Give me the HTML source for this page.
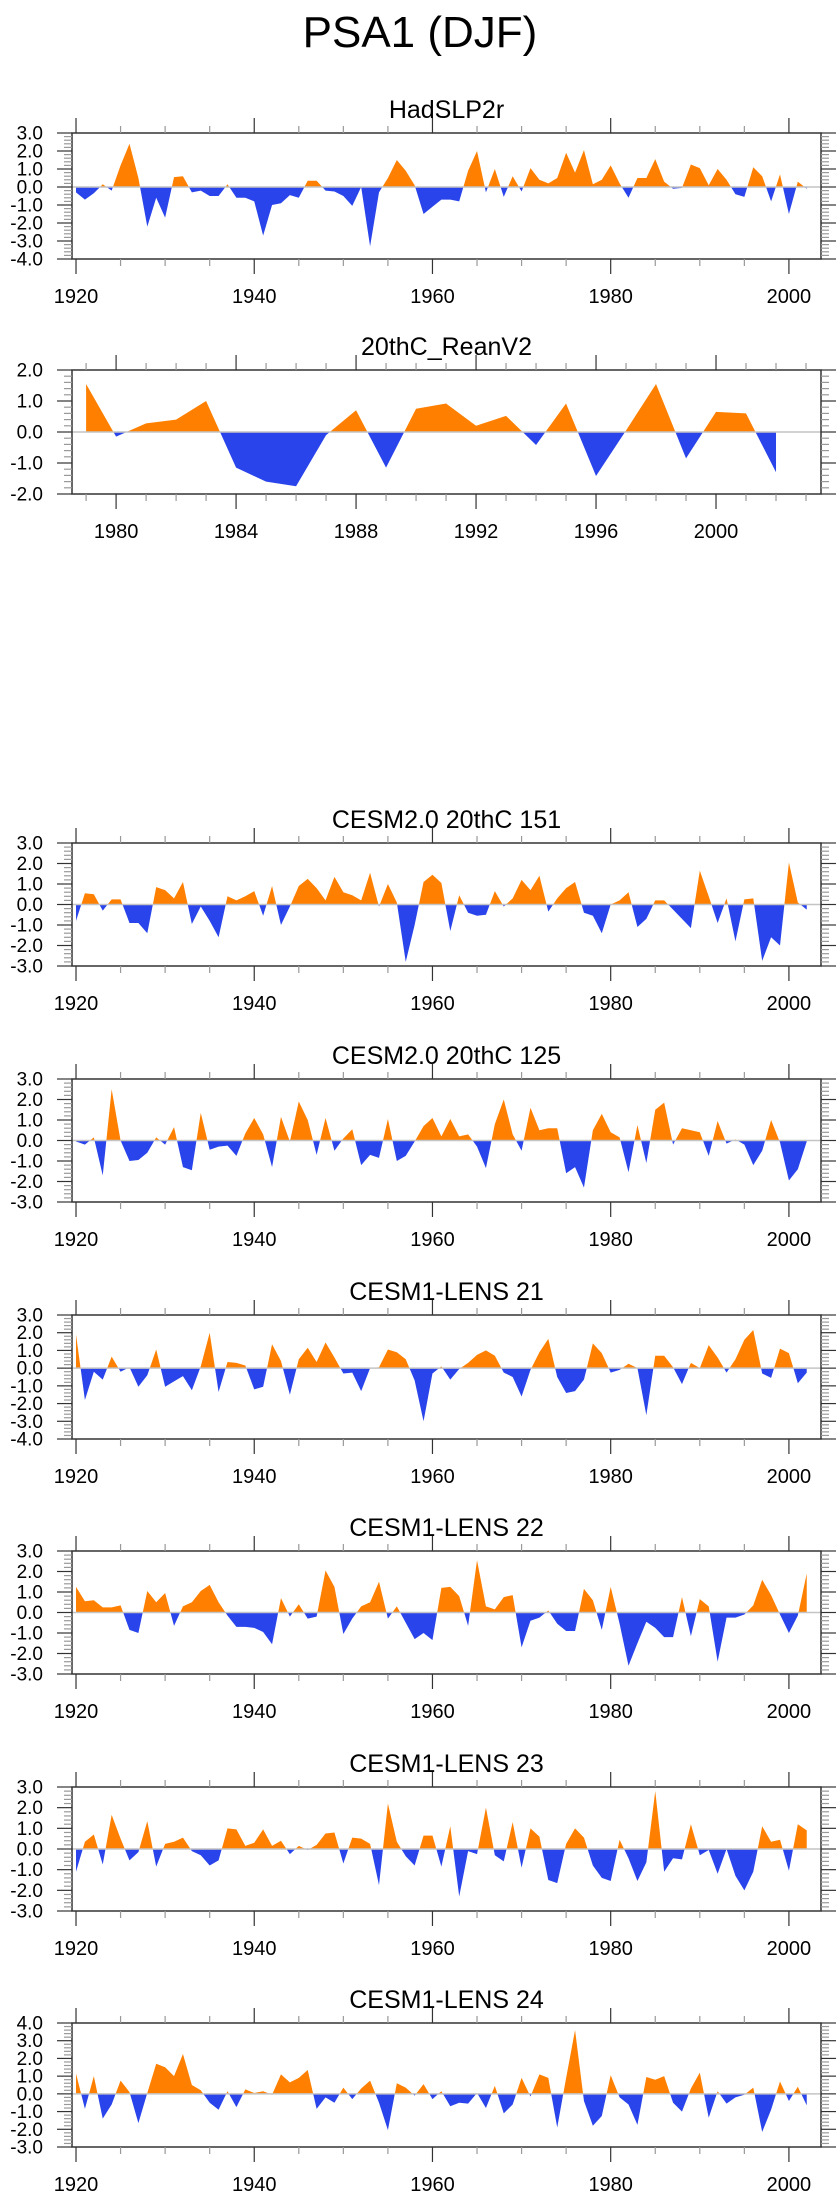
<!DOCTYPE html>
<html><head><meta charset="utf-8"><style>
html,body{margin:0;padding:0;background:#fff;}
svg{display:block;font-family:"Liberation Sans",sans-serif;}
</style></head><body>
<svg id="fig" width="840" height="2200" viewBox="0 0 840 2200" xmlns="http://www.w3.org/2000/svg">
<text x="420" y="47" font-size="44" text-anchor="middle">PSA1 (DJF)</text>
</svg>
<script>
const hadslp=[-0.3,-0.7,-0.35,0.15,-0.2,1.2,2.4,0.5,-2.2,-0.6,-1.7,0.55,0.6,-0.3,-0.2,-0.5,-0.5,0.15,-0.6,-0.6,-0.8,-2.7,-1.0,-0.9,-0.45,-0.6,0.35,0.35,-0.2,-0.25,-0.5,-1.05,0.0,-3.3,-0.3,0.5,1.5,0.9,0.1,-1.5,-1.1,-0.7,-0.7,-0.8,0.9,2.0,-0.3,1.0,-0.55,0.6,-0.25,1.05,0.4,0.2,0.5,1.9,0.8,2.05,0.15,0.4,1.2,0.2,-0.6,0.5,0.5,1.55,0.3,-0.1,-0.05,1.25,1.05,0.1,1.0,0.4,-0.4,-0.55,1.1,0.6,-0.8,0.7,-1.5,0.3,-0.1];
const rean=[1.55,-0.15,0.28,0.4,1.0,-1.15,-1.6,-1.75,-0.1,0.7,-1.15,0.75,0.92,0.2,0.52,-0.42,0.92,-1.42,0.05,1.55,-0.85,0.65,0.6,-1.3];
const c151=[-0.8,0.55,0.5,-0.3,0.25,0.25,-0.9,-0.9,-1.4,0.85,0.7,0.3,1.1,-0.95,-0.1,-0.8,-1.6,0.4,0.2,0.4,0.65,-0.55,0.9,-1.0,-0.1,0.9,1.25,0.8,0.2,1.35,0.6,0.45,0.2,1.55,-0.1,1.0,0.1,-2.8,-1.0,1.1,1.45,1.05,-1.3,0.45,-0.4,-0.55,-0.5,0.65,-0.1,0.3,1.2,0.7,1.4,-0.35,0.3,0.8,1.1,-0.4,-0.55,-1.4,0.0,0.2,0.6,-1.1,-0.7,0.2,0.2,-0.25,-0.7,-1.15,1.65,0.4,-0.9,0.3,-1.8,0.25,0.3,-2.75,-1.6,-2.0,2.05,0.1,-0.25];
const c125=[-0.05,-0.2,0.15,-1.7,2.5,0.0,-1.0,-0.95,-0.6,0.15,-0.2,0.65,-1.3,-1.45,1.35,-0.45,-0.3,-0.25,-0.75,0.35,1.1,0.3,-1.3,1.15,-0.05,1.9,1.0,-0.7,1.1,-0.5,0.1,0.55,-1.2,-0.7,-0.85,1.05,-1.0,-0.75,-0.05,0.7,1.1,0.2,1.05,0.2,0.3,-0.3,-1.35,0.8,2.0,0.3,-0.5,1.6,0.5,0.6,0.6,-1.6,-1.3,-2.3,0.5,1.3,0.4,0.15,-1.55,0.75,-1.1,1.5,1.85,-0.2,0.6,0.5,0.4,-0.75,0.95,-0.15,0.05,-0.2,-1.2,-0.5,1.0,-0.1,-1.95,-1.4,-0.05];
const l21=[1.9,-1.8,-0.2,-0.65,0.65,-0.2,0.05,-1.05,-0.4,1.05,-1.05,-0.75,-0.45,-1.25,0.1,2.0,-1.35,0.35,0.3,0.15,-1.2,-1.05,1.35,0.4,-1.5,0.5,1.15,0.35,1.45,0.6,-0.3,-0.25,-1.3,0.0,0.05,1.05,0.9,0.5,-0.7,-3.0,-0.3,0.1,-0.65,-0.05,0.3,0.75,1.0,0.7,-0.25,-0.5,-1.6,-0.1,0.9,1.65,-0.5,-1.4,-1.3,-0.65,1.4,0.85,-0.25,-0.1,0.25,0.0,-2.65,0.7,0.7,0.05,-0.9,0.3,0.0,1.3,0.6,-0.25,0.5,1.6,2.15,-0.3,-0.55,1.1,0.85,-0.85,-0.25];
const l22=[1.25,0.55,0.6,0.25,0.25,0.35,-0.85,-1.0,1.05,0.5,0.95,-0.65,0.3,0.5,1.05,1.35,0.5,-0.15,-0.7,-0.7,-0.75,-0.95,-1.55,0.7,-0.2,0.4,-0.3,-0.2,2.05,1.25,-1.05,-0.3,0.3,0.5,1.5,-0.3,0.3,-0.5,-1.3,-1.0,-1.35,1.2,1.25,0.8,-0.65,2.55,0.3,0.15,0.75,0.85,-1.7,-0.4,-0.25,0.1,-0.55,-0.9,-0.9,1.15,0.6,-0.85,1.25,-0.55,-2.6,-1.5,-0.45,-0.75,-1.2,-1.2,0.75,-1.15,0.65,0.3,-2.4,-0.25,-0.25,-0.1,0.35,1.6,0.85,-0.1,-1.0,-0.15,1.9];
const l23=[-1.1,0.35,0.7,-0.75,1.65,0.5,-0.55,-0.15,1.35,-0.85,0.25,0.35,0.55,-0.1,-0.3,-0.8,-0.55,1.0,0.95,0.15,0.3,0.95,0.15,0.4,-0.25,0.15,-0.05,0.2,0.75,0.8,-0.7,0.55,0.5,0.25,-1.75,2.2,0.35,-0.35,-0.8,0.65,0.65,-0.85,1.1,-2.3,-0.1,-0.25,2.0,-0.3,-0.6,1.3,-0.9,1.0,0.6,-1.5,-1.65,0.25,1.0,0.55,-0.8,-1.4,-1.55,0.45,-0.45,-1.55,-0.65,2.8,-1.1,-0.45,-0.5,1.2,-0.3,-0.05,-1.2,0.0,-1.3,-2.0,-1.1,1.1,0.35,0.45,-1.05,1.2,0.9];
const l24=[1.15,-0.85,1.0,-1.4,-0.6,0.75,0.1,-1.65,0.05,1.7,1.5,1.0,2.25,0.5,0.2,-0.5,-0.9,0.15,-0.75,0.25,0.05,0.15,-0.05,1.1,0.65,0.9,1.35,-0.85,-0.2,-0.5,0.35,-0.3,0.3,0.75,-0.5,-2.05,0.6,0.35,-0.1,0.55,-0.3,0.15,-0.7,-0.5,-0.55,0.05,-0.8,0.45,-1.1,-0.6,0.9,-0.15,1.1,0.9,-1.9,0.9,3.6,-0.4,-1.8,-1.25,1.05,-0.2,-0.6,-1.75,0.95,0.8,1.0,-0.5,-1.0,0.3,1.2,-1.35,0.15,-0.55,-0.2,-0.05,0.35,-2.15,-0.9,0.7,-0.4,0.4,-0.65];
const longYears=[];for(let y=1920;y<=2002;y++)longYears.push(y);
const reanYears=[];for(let y=1979;y<=2002;y++)reanYears.push(y);
const longTickLabels=[1920,1940,1960,1980,2000];
const reanTickLabels=[1980,1984,1988,1992,1996,2000];

const NS="http://www.w3.org/2000/svg";
const svg=document.getElementById('fig');
function mk(tag,attrs,parent){const e=document.createElementNS(NS,tag);for(const k in attrs)e.setAttribute(k,attrs[k]);(parent||svg).appendChild(e);return e;}
const FL=72,FR=821;
const panels=[
 {name:'hadslp2r',title:'HadSLP2r',top:133,bot:259,ymax:3,ymin:-4,years:longYears,vals:hadslp,long:true},
 {name:'20thc-reanv2',title:'20thC_ReanV2',top:370,bot:494,ymax:2,ymin:-2,years:reanYears,vals:rean,long:false},
 {name:'cesm2-151',title:'CESM2.0 20thC 151',top:843,bot:966,ymax:3,ymin:-3,years:longYears,vals:c151,long:true},
 {name:'cesm2-125',title:'CESM2.0 20thC 125',top:1079,bot:1202,ymax:3,ymin:-3,years:longYears,vals:c125,long:true},
 {name:'lens-21',title:'CESM1-LENS 21',top:1315,bot:1439,ymax:3,ymin:-4,years:longYears,vals:l21,long:true},
 {name:'lens-22',title:'CESM1-LENS 22',top:1551,bot:1674,ymax:3,ymin:-3,years:longYears,vals:l22,long:true},
 {name:'lens-23',title:'CESM1-LENS 23',top:1787,bot:1911,ymax:3,ymin:-3,years:longYears,vals:l23,long:true},
 {name:'lens-24',title:'CESM1-LENS 24',top:2023,bot:2147,ymax:4,ymin:-3,years:longYears,vals:l24,long:true}
];
panels.forEach((p,pi)=>{
 const g=mk('g',{});
 
 
 const xr=p.long?[1919.55,2003.6]:[1978.53,2003.5];
 const X=v=>FL+(v-xr[0])/(xr[1]-xr[0])*(FR-FL);
 const Y=v=>p.top+(p.ymax-v)/(p.ymax-p.ymin)*(p.bot-p.top);
 const t=mk('text',{x:(FL+FR)/2,y:p.top-15,'font-size':25,'text-anchor':'middle'},g);
 t.textContent=p.title;
 
 
 const y0=Y(0);
 let d='M'+X(p.years[0]).toFixed(2)+','+y0.toFixed(2);
 p.vals.forEach((v,i)=>{d+='L'+X(p.years[i]).toFixed(2)+','+Y(v).toFixed(2);});
 d+='L'+X(p.years[p.years.length-1]).toFixed(2)+','+y0.toFixed(2)+'Z';
 const cpA=mk('clipPath',{id:'ca'+pi},g);mk('rect',{x:FL,y:p.top,width:FR-FL,height:y0-p.top},cpA);
 const cpB=mk('clipPath',{id:'cb'+pi},g);mk('rect',{x:FL,y:y0,width:FR-FL,height:p.bot-y0},cpB);
 const pos=mk('path',{d:d,fill:'#ff8000','clip-path':'url(#ca'+pi+')'},g);
 
 
 const neg=mk('path',{d:d,fill:'#2a44ec','clip-path':'url(#cb'+pi+')'},g);
 
 
 const zl=mk('line',{x1:FL,x2:FR,y1:y0,y2:y0,stroke:'#c4c4c4','stroke-width':1.5},g);
 
 
 const fr=mk('rect',{x:FL,y:p.top,width:FR-FL,height:p.bot-p.top,fill:'none',stroke:'#333','stroke-width':1.5},g);
 
 
 for(let k=Math.round(p.ymin*5);k<=Math.round(p.ymax*5);k++){
  const v=k/5,yy=Y(v),major=(k%5===0),L=major?15:8;
  mk('line',{x1:FL-L,x2:FL,y1:yy,y2:yy,stroke:major?'#333':'#999','stroke-width':1.2},g);
  mk('line',{x1:FR,x2:FR+L,y1:yy,y2:yy,stroke:major?'#333':'#999','stroke-width':1.2},g);
  if(major){
   const tl=mk('text',{x:43,y:yy+6.5,'font-size':19,'text-anchor':'end'},g);
   tl.textContent=v.toFixed(1);
   
   
  }
 }
 const step=p.long?5:1,majStep=p.long?20:4,base=p.long?1920:1980;
 const start=Math.ceil(xr[0]/step)*step;
 for(let yr=start;yr<=xr[1];yr+=step){
  const xx=X(yr),major=((yr-base)%majStep===0),L=major?15:7;
  mk('line',{x1:xx,x2:xx,y1:p.top-L,y2:p.top,stroke:major?'#333':'#999','stroke-width':1.2},g);
  mk('line',{x1:xx,x2:xx,y1:p.bot,y2:p.bot+L,stroke:major?'#333':'#999','stroke-width':1.2},g);
 }
 (p.long?longTickLabels:reanTickLabels).forEach(yr=>{
  const xl=mk('text',{x:X(yr),y:p.bot+44,'font-size':20,'text-anchor':'middle'},g);
  xl.textContent=String(yr);
  
  
 });
});
</script>
</body></html>
